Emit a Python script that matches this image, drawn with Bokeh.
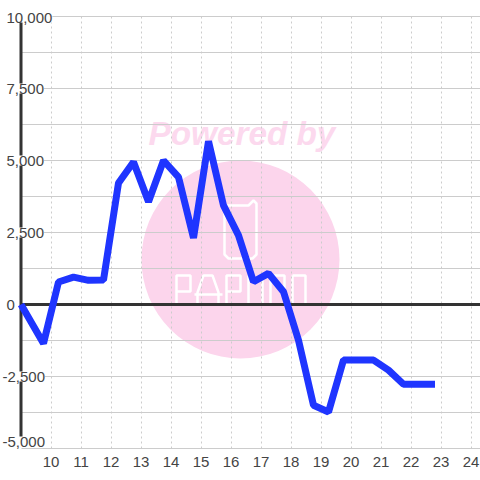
from bokeh.plotting import figure
from bokeh.models import Range1d, FixedTicker, ColumnDataSource
from bokeh.core.properties import value
from bokeh.embed import file_html
from bokeh.resources import INLINE

hours = [9.0, 9.75, 10.25, 10.75, 11.25, 11.75, 12.25, 12.75, 13.25, 13.75, 14.25, 14.75,
         15.25, 15.75, 16.25, 16.75, 17.25, 17.75, 18.25, 18.75, 19.25, 19.75, 20.25, 20.75,
         21.25, 21.75, 22.25, 22.8]
balance = [0, -1350, 780, 950, 840, 850, 4220, 4950, 3570, 5000, 4420, 2310,
           5670, 3440, 2400, 790, 1080, 440, -1240, -3500, -3730, -1930, -1930, -1930,
           -2280, -2770, -2770, -2770]
y_ticks = [-5000, -2500, 0, 2500, 5000, 7500, 10000]
y_minor = [-3750, -1250, 1250, 3750, 6250, 8750]
y_labels = ["-5,000", "-2,500", "0", "2,500", "5,000", "7,500", "10,000"]
x_ticks = list(range(10, 25))
watermark = "Powered by"

PX_X = 30.0
PX_Y = 1250 / 36.0
def dx(px): return 9 + (px - 20.5) / PX_X
def dy(px): return (304.0 - px) * PX_Y

FRAME_H = 449
p = figure(width=480, height=480, output_backend="svg", toolbar_location=None,
           x_range=Range1d(dx(0), dx(480)), y_range=Range1d(dy(FRAME_H), dy(0)),
           min_border_left=0, min_border_right=0, min_border_top=0, min_border_bottom=480 - FRAME_H,
           outline_line_color=None, background_fill_color="white")

PINK = "#fcd5ec"
# watermark (below the grid)
p.scatter([dx(240)], [dy(259)], size=198, marker="circle", fill_color=PINK, line_color=None, level="image")
p.text([dx(148)], [dy(133)], text=[watermark], text_font=value("Liberation Sans"), text_font_size="33.3px",
       text_font_style="bold italic", text_color="#fcd9ee", text_baseline="alphabetic", level="image")
logo = [
    [(224, 205), (224, 254), (228, 258), (252, 258), (256, 254), (256, 203), (253, 200), (250, 203), (248, 205), (224, 205)],
    [(176, 304), (176, 275), (190, 275), (190, 291), (176, 291)],
    [(197, 304), (197, 292), (203, 275), (212, 275), (218, 292), (218, 304)],
    [(194, 294), (222, 294)],
    [(226, 304), (226, 275), (240, 275), (240, 291), (226, 291)],
    [(248, 275), (248, 304), (262, 304), (262, 275)],
    [(270, 275), (270, 304), (284, 304), (284, 275), (270, 275)],
    [(292, 275), (292, 304), (305, 304), (305, 275), (292, 275)],
]
p.multi_line([[dx(a) for a, _ in s] for s in logo], [[dy(b) for _, b in s] for s in logo],
             line_color="white", line_width=2.5, level="image")

# grid
p.xgrid.ticker = FixedTicker(ticks=x_ticks)
p.xgrid.grid_line_color = "#cccccc"
p.xgrid.grid_line_dash = "2 3"
p.xgrid.grid_line_width = 1
p.xgrid.cross_bounds = (y_ticks[0], y_ticks[-1])
p.ygrid.ticker = FixedTicker(ticks=sorted(y_ticks + y_minor))
p.ygrid.grid_line_color = "#cccccc"
p.ygrid.grid_line_width = 1
p.ygrid.cross_bounds = (9, dx(480))

# axes
p.yaxis.visible = False
xa = p.xaxis[0]
xa.ticker = FixedTicker(ticks=x_ticks)
xa.axis_line_color = None
xa.major_tick_line_color = None
xa.minor_tick_line_color = None
xa.major_label_text_font = "Liberation Sans"
xa.major_label_text_font_size = "15px"
xa.major_label_text_color = "#444444"
xa.major_label_standoff = 1

DARK = "#333333"
p.line([9, 9], [dy(437), y_ticks[-1]], line_color=DARK, line_width=3, line_cap="butt")
p.line([9, dx(480)], [0, 0], line_color=DARK, line_width=3)

# y labels sitting over the axis with a white plate
src = ColumnDataSource(dict(
    x=[dx(6)] * len(y_ticks), y=y_ticks, text=y_labels,
    xo=[-4 if s.startswith("-") else 0 for s in y_labels],
    yo=[-7 if t == y_ticks[0] else (1 if t == y_ticks[-1] else 0) for t in y_ticks]))
p.text("x", "y", text="text", source=src, x_offset="xo", y_offset="yo",
       text_font=value("Liberation Sans"), text_font_size="15px", text_color="#444444",
       text_baseline="middle", text_align="left",
       background_fill_color="white", padding=0)

p.line(hours, balance, line_color="#1f35ff", line_width=7, line_join="bevel", line_cap="butt")

open("out.html", "w").write(file_html(p, INLINE))
